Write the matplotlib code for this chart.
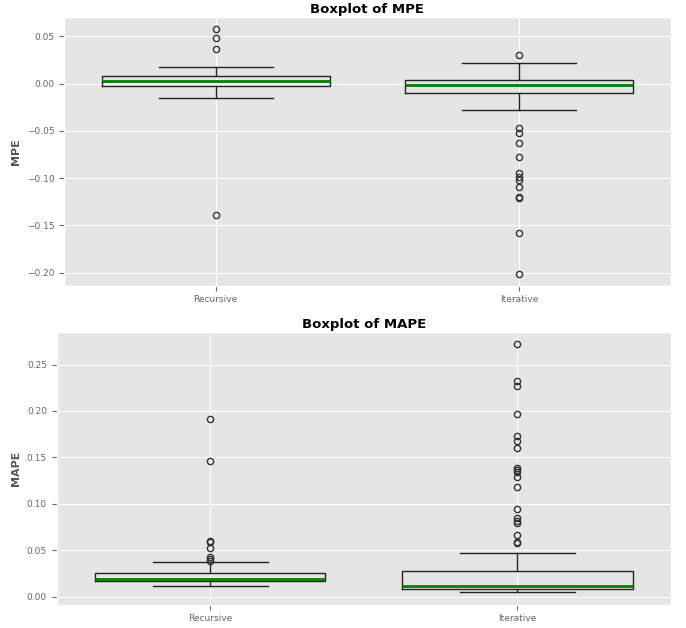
import matplotlib
matplotlib.use("Agg")
import matplotlib.pyplot as plt

plt.style.use("ggplot")

methods = ["Recursive", "Iterative"]

# MPE box statistics: whisker low, q1, median, q3, whisker high
mpe_whislo = [-0.0152, -0.0279]
mpe_q1 = [-0.0029, -0.0096]
mpe_med = [0.0024, -0.0018]
mpe_q3 = [0.0084, 0.0038]
mpe_whishi = [0.0172, 0.0221]
mpe_fliers = [
    [0.058, 0.048, 0.0366, -0.139],
    [0.0302, -0.0473, -0.0526, -0.0625, -0.078, -0.0949, -0.0985, -0.102,
     -0.109, -0.120, -0.121, -0.158, -0.201],
]

# MAPE box statistics
mape_whislo = [0.0115, 0.0046]
mape_q1 = [0.0165, 0.0082]
mape_med = [0.0194, 0.0111]
mape_q3 = [0.0252, 0.0273]
mape_whishi = [0.037, 0.0471]
mape_fliers = [
    [0.191, 0.1457, 0.0604, 0.0583, 0.0518, 0.0421, 0.0403, 0.0385],
    [0.272, 0.2327, 0.2273, 0.1965, 0.173, 0.168, 0.1598, 0.138, 0.1363,
     0.1338, 0.1288, 0.1177, 0.0942, 0.0845, 0.081, 0.0788, 0.0665,
     0.0586, 0.0572],
]


def make_stats(lo, q1, med, q3, hi, fliers):
    stats = []
    for i, name in enumerate(methods):
        stats.append(dict(label=name, whislo=lo[i], q1=q1[i], med=med[i],
                          q3=q3[i], whishi=hi[i], fliers=fliers[i]))
    return stats


def draw(ax, stats, title, ylabel):
    ax.bxp(stats, widths=0.75,
           boxprops=dict(color="#222222", linewidth=1),
           whiskerprops=dict(color="#222222", linewidth=1),
           capprops=dict(color="#222222", linewidth=1),
           medianprops=dict(color="green", linewidth=2),
           flierprops=dict(marker="o", markerfacecolor="none",
                           markeredgecolor="#333333", markersize=4.5))
    ax.set_title(title, fontsize=9.5, fontweight="bold", color="black", pad=3)
    ax.set_ylabel(ylabel, fontsize=8, fontweight="bold")
    ax.tick_params(labelsize=6.5, colors="#666666")


fig = plt.figure(figsize=(6.86, 6.28), dpi=100)
ax1 = fig.add_axes([0.0933, 0.545, 0.8847, 0.4284])
ax2 = fig.add_axes([0.0826, 0.0371, 0.8954, 0.4347])

draw(ax1, make_stats(mpe_whislo, mpe_q1, mpe_med, mpe_q3, mpe_whishi, mpe_fliers),
     "Boxplot of MPE", "MPE")
draw(ax2, make_stats(mape_whislo, mape_q1, mape_med, mape_q3, mape_whishi, mape_fliers),
     "Boxplot of MAPE", "MAPE")

fig.savefig("out.png", dpi=100)
